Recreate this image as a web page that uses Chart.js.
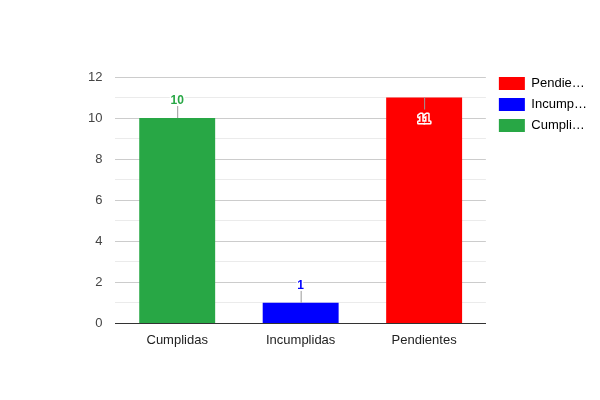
<!DOCTYPE html>
<html>
<head>
<meta charset="utf-8">
<script src="https://cdn.jsdelivr.net/npm/chart.js@4/dist/chart.umd.min.js"></script>
<style>
  html, body { margin: 0; padding: 0; background: #fff; }
  #wrap { width: 600px; height: 400px; }
</style>
</head>
<body>
<div id="wrap"><canvas id="estadoChart" width="600" height="400"></canvas></div>
<script>
const categories = ['Cumplidas', 'Incumplidas', 'Pendientes'];
const seriesNames = ['Pendientes', 'Incumplidas', 'Cumplidas'];
const pendientes = [null, null, 11];
const incumplidas = [null, 1, null];
const cumplidas = [10, null, null];
const seriesColors = ['#ff0000', '#0000ff', '#28a745'];
const yTicks = [0, 2, 4, 6, 8, 10, 12];

// etiquetas recortadas como en la leyenda original
function recortar(txt) {
  return txt.length > 6 ? txt.slice(0, 6) + '\u2026' : txt;
}

const anotaciones = {
  id: 'anotaciones',
  afterDatasetsDraw(chart) {
    const c = chart.ctx;
    const area = chart.chartArea;
    c.save();
    c.font = 'bold 12px Arial';
    c.textAlign = 'center';
    chart.data.datasets.forEach((ds, i) => {
      const meta = chart.getDatasetMeta(i);
      ds.data.forEach((v, j) => {
        if (v === null) return;
        const bar = meta.data[j];
        const x = bar.x;
        const top = bar.y;
        c.strokeStyle = '#999';
        c.lineWidth = 1;
        c.beginPath();
        let textY;
        if (top - area.top > 26) {
          c.moveTo(x + 0.5, top);
          c.lineTo(x + 0.5, top - 12);
          textY = top - 14;
        } else {
          c.moveTo(x + 0.5, top);
          c.lineTo(x + 0.5, top + 12);
          textY = top + 25;
        }
        c.stroke();
        c.lineJoin = 'round';
        c.lineWidth = 3;
        c.strokeStyle = '#fff';
        c.strokeText(String(v), x, textY);
        c.fillStyle = ds.backgroundColor;
        c.fillText(String(v), x, textY);
      });
    });
    c.restore();
  }
};

// acomoda la leyenda un poco a la derecha y arriba
const moverLeyenda = {
  id: 'moverLeyenda',
  afterLayout(chart) {
    const lg = chart.legend;
    lg.left += 5; lg.right += 5;
    lg.top -= 8; lg.bottom -= 8;
  }
};

const ctx = document.getElementById('estadoChart').getContext('2d');

const estadoChart = new Chart(ctx, {
  type: 'bar',
  data: {
    labels: categories,
    datasets: [
      { label: seriesNames[0], data: pendientes, backgroundColor: seriesColors[0] },
      { label: seriesNames[1], data: incumplidas, backgroundColor: seriesColors[1] },
      { label: seriesNames[2], data: cumplidas, backgroundColor: seriesColors[2] }
    ]
  },
  options: {
    responsive: false,
    animation: false,
    barPercentage: 0.615,
    categoryPercentage: 1,
    layout: { padding: { top: 77, left: 75, right: 8, bottom: 51 } },
    scales: {
      x: {
        stacked: true,
        grid: { display: false },
        border: { color: '#333' },
        ticks: { color: '#222', font: { family: 'Arial', size: 13 }, padding: 1 }
      },
      y: {
        stacked: true,
        min: 0,
        max: 12,
        border: { display: false },
        grid: {
          color: (g) => g.tick.value === 0 ? '#333' : (g.tick.value % 2 === 0 ? '#ccc' : '#ebebeb'),
          drawTicks: false
        },
        ticks: {
          stepSize: 1,
          color: '#444',
          padding: 13,
          font: { family: 'Arial', size: 13 },
          callback: (v) => yTicks.includes(v) ? v : ''
        }
      }
    },
    plugins: {
      tooltip: { enabled: false },
      legend: {
        position: 'right',
        align: 'start',
        labels: {
          boxWidth: 26,
          boxHeight: 13,
          padding: 8,
          color: '#222',
          font: { family: 'Arial', size: 13 },
          generateLabels: (chart) => chart.data.datasets.map((ds, i) => ({
            text: recortar(ds.label),
            fillStyle: ds.backgroundColor,
            strokeStyle: ds.backgroundColor,
            lineWidth: 0,
            datasetIndex: i
          }))
        }
      }
    }
  },
  plugins: [anotaciones, moverLeyenda]
});
</script>
</body>
</html>
